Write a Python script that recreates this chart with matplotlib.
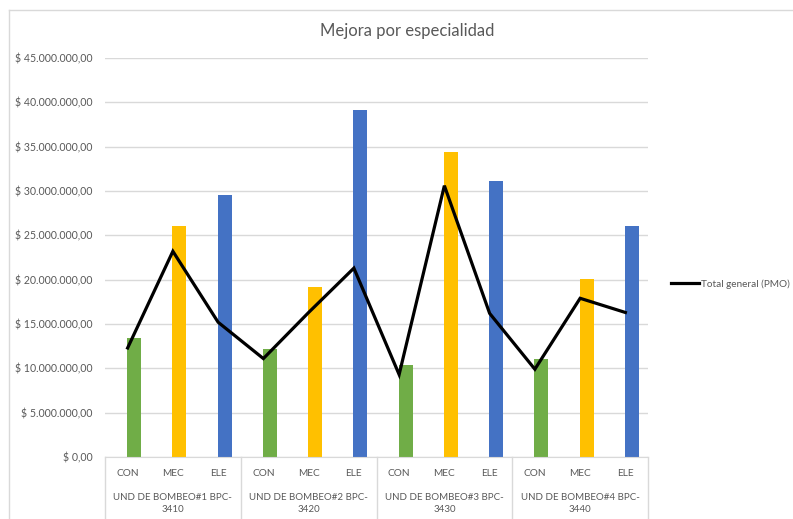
import matplotlib.pyplot as plt
from matplotlib.lines import Line2D
from matplotlib.ticker import FuncFormatter

plt.rcParams['font.family'] = ['Lato', 'DejaVu Sans']

GRAY = '#595959'
GRID = '#d9d9d9'

groups = ['UND DE BOMBEO#1 BPC-\n3410', 'UND DE BOMBEO#2 BPC-\n3420',
          'UND DE BOMBEO#3 BPC-\n3430', 'UND DE BOMBEO#4 BPC-\n3440']
specialties = ['CON', 'MEC', 'ELE']
spec_colors = ['#70AD47', '#FFC000', '#4472C4']

# mejora por especialidad (barras), en millones
con_vals = [13.4, 12.2, 10.4, 11.1]
mec_vals = [26.0, 19.2, 34.4, 20.05]
ele_vals = [29.5, 39.1, 31.1, 26.1]

# Total general (PMO), en millones
pmo_vals = [12.3, 23.2, 15.2,
            11.1, 16.3, 21.3,
            9.3, 30.6, 16.2,
            9.9, 17.9, 16.3]


def money(v, pos):
  s = '{:,.2f}'.format(v)
  s = s.replace(',', 'X').replace('.', ',').replace('X', '.')
  return '$ ' + s


def plot_chart():
  fig = plt.figure(figsize=(7.93, 5.19), dpi=100)
  ax = fig.add_axes([105 / 793, 1 - 457 / 519, 543 / 793, 399 / 519])

  n = len(groups) * len(specialties)
  spec_series = [con_vals, mec_vals, ele_vals]
  for s, vals in enumerate(spec_series):
    xs = [g * 3 + s + 0.145 for g in range(len(groups))]
    ax.bar(xs, [v * 1e6 for v in vals], width=0.31, color=spec_colors[s], zorder=2)

  ax.plot(range(n), [v * 1e6 for v in pmo_vals], color='black', lw=2.3,
          zorder=3, label='Total general (PMO)', solid_joinstyle='miter')

  ax.set_xlim(-0.5, n - 0.5)
  ax.set_ylim(0, 45e6)
  ax.set_yticks([i * 5e6 for i in range(10)])
  ax.yaxis.set_major_formatter(FuncFormatter(money))
  ax.tick_params(axis='y', length=0, pad=9, labelsize=7.6, labelcolor=GRAY)
  ax.grid(axis='y', color=GRID, lw=1, zorder=0)
  ax.set_axisbelow(True)

  ax.set_xticks(range(n))
  ax.set_xticklabels(specialties * len(groups))
  ax.tick_params(axis='x', length=0, pad=9, labelsize=7.3, labelcolor=GRAY)

  for sp in ['top', 'right', 'left']:
    ax.spines[sp].set_visible(False)
  ax.spines['bottom'].set_color(GRID)

  tr = ax.get_xaxis_transform()
  for g, name in enumerate(groups):
    ax.text(g * 3 + 1, -0.117, name, transform=tr, ha='center', va='center',
            fontsize=7.0, color=GRAY, linespacing=1.45)
  for b in range(len(groups) + 1):
    ax.plot([b * 3 - 0.5, b * 3 - 0.5], [0, -0.16], transform=tr,
            color=GRID, lw=1, clip_on=False)

  fig.text(407 / 793, 1 - 31 / 519, 'Mejora por especialidad', ha='center',
           va='center', fontsize=12, color=GRAY)

  # borde del area del grafico
  fig.add_artist(Line2D([8.5 / 793, 8.5 / 793], [0, 1 - 9.5 / 519],
                        color=GRID, lw=1))
  fig.add_artist(Line2D([8.5 / 793, 1], [1 - 9.5 / 519, 1 - 9.5 / 519],
                        color=GRID, lw=1))

  fig.legend(loc='center left', bbox_to_anchor=(666 / 793, 1 - 284 / 519),
             frameon=False, fontsize=7.2, handlelength=2.8, handletextpad=0.2,
             labelcolor=GRAY, borderpad=0)

  plt.savefig('out.png', dpi=100)


if __name__ == '__main__':
  plot_chart()
